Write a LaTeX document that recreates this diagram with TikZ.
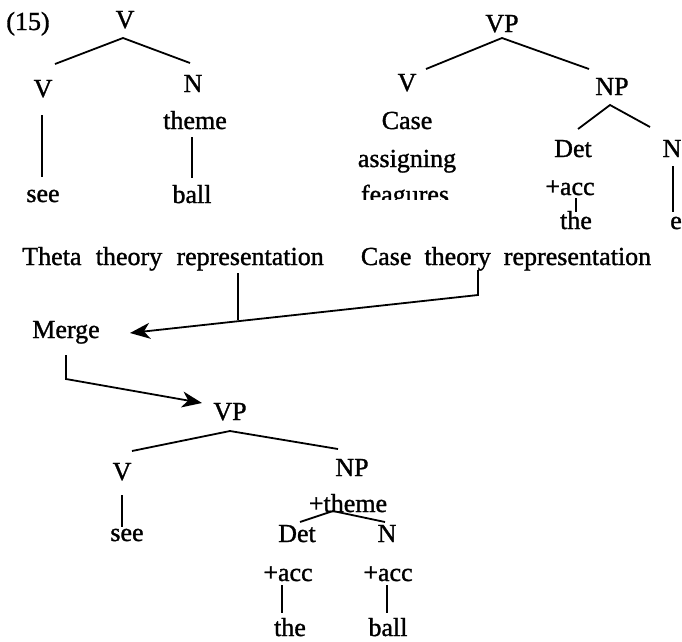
\documentclass[tikz,border=0pt]{standalone}
\usepackage{fontspec}
\setmainfont{Liberation Serif}[BoldFont={Liberation Serif}, BoldFeatures={FakeBold=1.2}]
\usetikzlibrary{arrows.meta}
\begin{document}
\begin{tikzpicture}[x=1pt,y=-1pt,
  lab/.style={anchor=base, inner sep=0pt, font=\fontsize{26}{30}\selectfont\bfseries},
  edge/.style={line width=1.8pt},
  arr/.style={line width=1.8pt, -{Stealth[length=20pt,width=16pt,inset=6pt]}}]
\useasboundingbox (0,0) rectangle (682,641);
% ---------- top-left tree
\node[lab] (num) at (28,30) {(15)};
\node[lab] (tlV) at (125,28) {V};
\node[lab] (tlV1) at (43,97) {V};
\node[lab] (tlN) at (193,92) {N};
\node[lab] (tltheme) at (195,129) {theme};
\node[lab] (tlsee) at (43,202) {see};
\node[lab] (tlball) at (192,203) {ball};
\coordinate (a1) at (123,38); \coordinate (a2) at (55,64); \coordinate (a3) at (190,63);
\coordinate (a4) at (42,115); \coordinate (a5) at (42,177);
\coordinate (a6) at (192,137); \coordinate (a7) at (192,178);
\draw[edge] (a2) -- (a1) -- (a3);
\draw[edge] (a4) -- (a5);
\draw[edge] (a6) -- (a7);
% ---------- top-right tree
\node[lab] (trVP) at (502,32) {VP};
\node[lab] (trV) at (407,91) {V};
\node[lab] (trNP) at (612,95) {NP};
\node[lab] (trcase) at (407,129) {Case};
\node[lab] (trassign) at (407,167) {assigning};
\begin{scope}
\clip (340,150) rectangle (480,199);
\node[lab] (trfeag) at (405,203) {feagures};
\end{scope}
\node[lab] (trDet) at (573,157) {Det};
\node[lab] (trN) at (672,157) {N};
\node[lab] (tracc) at (570,195) {+acc};
\node[lab] (trthe) at (576,229) {the};
\node[lab] (tre) at (676,229) {e};
\coordinate (b1) at (502,38); \coordinate (b2) at (426,69); \coordinate (b3) at (589,69);
\coordinate (b4) at (610,105); \coordinate (b5) at (578,129); \coordinate (b6) at (650,127);
\coordinate (b7) at (576,198); \coordinate (b8) at (576,212);
\coordinate (b9) at (673,166); \coordinate (b10) at (673,212);
\draw[edge] (b2) -- (b1) -- (b3);
\draw[edge] (b5) -- (b4) -- (b6);
\draw[edge] (b7) -- (b8);
\draw[edge] (b9) -- (b10);
% ---------- representations and merge
\node[lab] (theta) at (173,265) {Theta\hspace{0.55em}theory\hspace{0.55em}representation};
\node[lab] (casethe) at (506,265) {Case\hspace{0.5em}theory\hspace{0.5em}representation};
\node[lab] (merge) at (66,338) {Merge};
\coordinate (c1) at (478,270); \coordinate (c2) at (478,295);
\coordinate (c3) at (238,273); \coordinate (c4) at (238,320);
\coordinate (c5) at (130,333);
\draw[arr] (c1) -- (c2) -- (c5);
\draw[edge] (c3) -- (c4);
\coordinate (d1) at (66,355); \coordinate (d2) at (66,379); \coordinate (d3) at (202,403);
\draw[arr] (d1) -- (d2) -- (d3);
% ---------- bottom tree
\node[lab] (bVP) at (230,420) {VP};
\node[lab] (bV) at (122,480) {V};
\node[lab] (bNP) at (352,476) {NP};
\node[lab] (bsee) at (127,541) {see};
\node[lab] (btheme) at (348,512) {+theme};
\node[lab] (bDet) at (297,542) {Det};
\node[lab] (bN) at (387,542) {N};
\node[lab] (bacc1) at (288,581) {+acc};
\node[lab] (bacc2) at (388,581) {+acc};
\node[lab] (bthe) at (290,636) {the};
\node[lab] (bball) at (388,636) {ball};
\coordinate (e1) at (230,431); \coordinate (e2) at (132,451); \coordinate (e3) at (338,449);
\coordinate (e4) at (333,511); \coordinate (e5) at (300,522); \coordinate (e6) at (385,522);
\coordinate (e7) at (122,495); \coordinate (e8) at (122,527);
\coordinate (e9) at (282,585); \coordinate (e10) at (282,613);
\coordinate (e11) at (387,585); \coordinate (e12) at (387,613);
\draw[edge] (e2) -- (e1) -- (e3);
\draw[edge] (e5) -- (e4) -- (e6);
\draw[edge] (e7) -- (e8);
\draw[edge] (e9) -- (e10);
\draw[edge] (e11) -- (e12);
\end{tikzpicture}
\end{document}
